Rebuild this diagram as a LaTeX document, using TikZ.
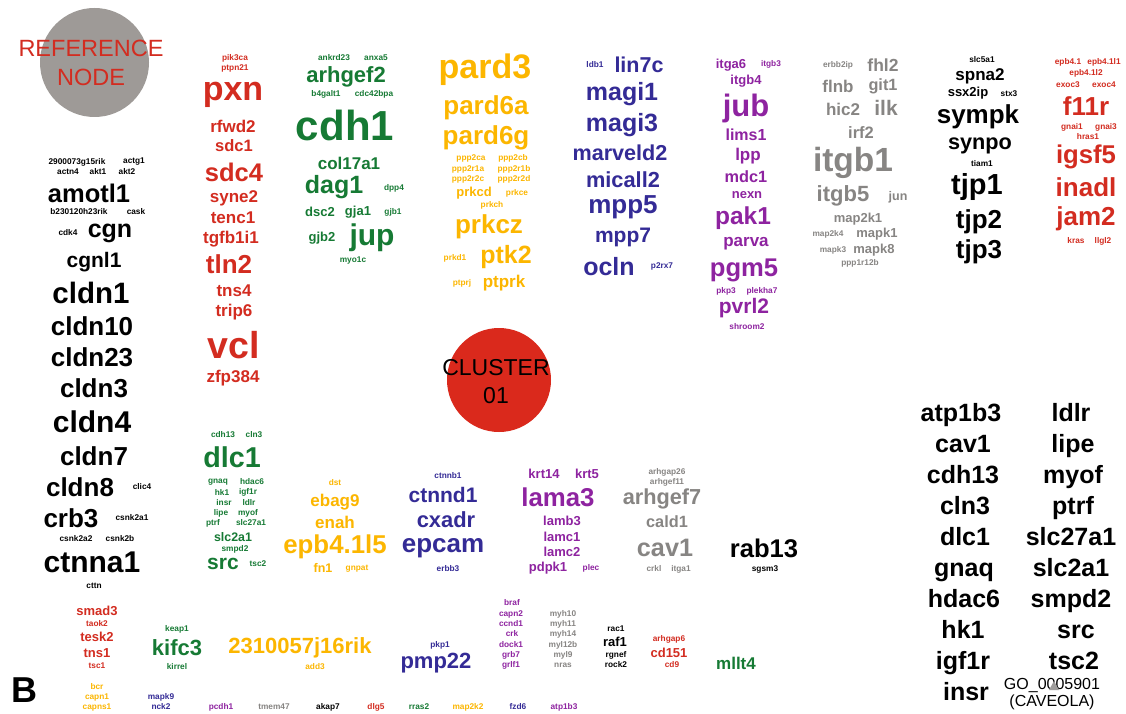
\documentclass[tikz,border=0pt]{standalone}
\usepackage{fontspec}
\setmainfont{Liberation Sans}
\definecolor{cR}{RGB}{211,44,32}
\definecolor{cG}{RGB}{22,122,52}
\definecolor{cO}{RGB}{252,182,0}
\definecolor{cB}{RGB}{52,43,150}
\definecolor{cP}{RGB}{142,35,160}
\definecolor{cY}{RGB}{135,133,131}
\definecolor{cK}{RGB}{0,0,0}
\definecolor{refgray}{RGB}{158,154,151}
\definecolor{clred}{RGB}{218,41,28}
\tikzset{
  wd/.style={inner sep=0pt,outer sep=0pt,anchor=center},
  fs/.style={font=\fontsize{#1}{#1}\selectfont\bfseries},
  plain/.style={inner sep=0pt,outer sep=0pt,align=center,font=\fontsize{23.5}{29}\selectfont},
}
\newcommand\gw[6]{\node[wd,fs={#4},text=#5] (#1) at (#2,#3) {#6};}
\newcommand\gb[5]{\node[wd,anchor=base,fs=25,text=cK] (#1) at (#2,#3) {#4};}
\begin{document}
\begin{tikzpicture}[x=1pt,y=-1pt]
\useasboundingbox[fill=white] (0,0) rectangle (1126,714);
% reference node
\node[circle,fill=refgray,minimum size=109pt,inner sep=0pt] (refc) at (94.5,62.5) {};
\node[plain,text=cR] (reft) at (91,62.5) {REFERENCE\\NODE};
% cluster node
\node[circle,fill=clred,minimum size=104pt,inner sep=0pt] (clc) at (499,380) {};
\node[plain,text=black,font=\fontsize{23}{28}\selectfont] (clt) at (496,382) {CLUSTER\\01};
% black left
\gw{k1}{77}{162}{8.3}{cK}{2900073g15rik}
\gw{k2}{134}{162}{8.3}{cK}{actg1}
\gw{k3}{68}{172}{8.3}{cK}{actn4}
\gw{k4}{98}{172}{8.3}{cK}{akt1}
\gw{k5}{127}{172}{8.3}{cK}{akt2}
\gw{k6}{89}{193}{25.5}{cK}{amotl1}
\gw{k7}{79}{212}{8.3}{cK}{b230120h23rik}
\gw{k8}{136}{212}{8.3}{cK}{cask}
\gw{k9}{68}{233}{8.3}{cK}{cdk4}
\gw{k10}{110}{233}{25}{cK}{cgn}
\gw{k11}{94}{262}{21}{cK}{cgnl1}
\gw{k12}{91}{293}{29.5}{cK}{cldn1}
\gw{k13}{92}{326}{26}{cK}{cldn10}
\gw{k14}{92}{357}{26}{cK}{cldn23}
\gw{k15}{94}{388}{26}{cK}{cldn3}
\gw{k16}{92}{422}{30}{cK}{cldn4}
\gw{k17}{94}{456}{26}{cK}{cldn7}
\gw{k18}{80}{487}{26}{cK}{cldn8}
\gw{k19}{142}{487}{8.3}{cK}{clic4}
\gw{k20}{71}{518}{26}{cK}{crb3}
\gw{k21}{132}{518}{8.3}{cK}{csnk2a1}
\gw{k22}{76}{539}{8.3}{cK}{csnk2a2}
\gw{k23}{120}{539}{8.3}{cK}{csnk2b}
\gw{k24}{92}{562}{30}{cK}{ctnna1}
\gw{k25}{94}{586}{8.3}{cK}{cttn}
% red column
\gw{r1}{235}{58}{8.3}{cR}{pik3ca}
\gw{r2}{235}{68}{8.3}{cR}{ptpn21}
\gw{r3}{233}{95}{34}{cR}{pxn}
\gw{r4}{233}{126}{17}{cR}{rfwd2}
\gw{r5}{234}{146}{16.5}{cR}{sdc1}
\gw{r6}{234}{172}{25.5}{cR}{sdc4}
\gw{r7}{234}{198}{17}{cR}{syne2}
\gw{r8}{233}{218}{17}{cR}{tenc1}
\gw{r9}{231}{239}{17}{cR}{tgfb1i1}
\gw{r10}{229}{264}{26}{cR}{tln2}
\gw{r11}{234}{291}{17}{cR}{tns4}
\gw{r12}{234}{312}{17}{cR}{trip6}
\gw{r13}{234}{345}{37.5}{cR}{vcl}
\gw{r14}{233}{378}{17}{cR}{zfp384}
% green top
\gw{g1}{334}{58}{8.3}{cG}{ankrd23}
\gw{g2}{376}{58}{8.3}{cG}{anxa5}
\gw{g3}{346}{77}{22}{cG}{arhgef2}
\gw{g4}{326}{94}{8.3}{cG}{b4galt1}
\gw{g5}{374}{94}{8.3}{cG}{cdc42bpa}
\gw{g6}{345}{125}{42}{cG}{cdh1}
\gw{g7}{349}{163}{17}{cG}{col17a1}
\gw{g8}{334}{187}{25}{cG}{dag1}
\gw{g9}{394}{188}{8.3}{cG}{dpp4}
\gw{g10}{320}{212}{13}{cG}{dsc2}
\gw{g11}{358}{212}{13}{cG}{gja1}
\gw{g12}{393}{212}{8.3}{cG}{gjb1}
\gw{g13}{322}{238}{13}{cG}{gjb2}
\gw{g14}{372}{238}{30}{cG}{jup}
\gw{g15}{353}{261}{8.3}{cG}{myo1c}
% orange top
\gw{o1}{485}{70}{34}{cO}{pard3}
\gw{o2}{486}{108}{26}{cO}{pard6a}
\gw{o3}{486}{138}{26}{cO}{pard6g}
\gw{o4}{471}{158}{8.3}{cO}{ppp2ca}
\gw{o5}{513}{158}{8.3}{cO}{ppp2cb}
\gw{o6}{468}{169}{8.3}{cO}{ppp2r1a}
\gw{o7}{514}{169}{8.3}{cO}{ppp2r1b}
\gw{o8}{468}{179}{8.3}{cO}{ppp2r2c}
\gw{o9}{514}{179}{8.3}{cO}{ppp2r2d}
\gw{o10}{474}{193}{13}{cO}{prkcd}
\gw{o11}{517}{193}{8.3}{cO}{prkce}
\gw{o12}{492}{205}{8.3}{cO}{prkch}
\gw{o13}{489}{227}{26}{cO}{prkcz}
\gw{o14}{455}{258}{8.3}{cO}{prkd1}
\gw{o15}{506}{257}{25}{cO}{ptk2}
\gw{o16}{462}{283}{8.3}{cO}{ptprj}
\gw{o17}{504}{283}{17}{cO}{ptprk}
% blue top
\gw{b1}{595}{65}{8.3}{cB}{ldb1}
\gw{b2}{639}{65}{21.5}{cB}{lin7c}
\gw{b3}{622}{94}{25}{cB}{magi1}
\gw{b4}{622}{125}{25}{cB}{magi3}
\gw{b5}{620}{153}{21.6}{cB}{marveld2}
\gw{b6}{623}{180}{21.8}{cB}{micall2}
\gw{b7}{623}{207}{26}{cB}{mpp5}
\gw{b8}{623}{237}{21}{cB}{mpp7}
\gw{b9}{609}{267}{25}{cB}{ocln}
\gw{b10}{662}{266}{8.3}{cB}{p2rx7}
% purple top
\gw{p1}{731}{65}{13}{cP}{itga6}
\gw{p2}{771}{64}{8.3}{cP}{itgb3}
\gw{p3}{746}{81}{13}{cP}{itgb4}
\gw{p4}{746}{108}{31}{cP}{jub}
\gw{p5}{746}{135}{16}{cP}{lims1}
\gw{p6}{748}{156}{17}{cP}{lpp}
\gw{p7}{746}{177}{16.3}{cP}{mdc1}
\gw{p8}{747}{195}{13}{cP}{nexn}
\gw{p9}{743}{218}{24.5}{cP}{pak1}
\gw{p10}{746}{244}{17}{cP}{parva}
\gw{p11}{744}{270}{25.6}{cP}{pgm5}
\gw{p12}{726}{291}{8.3}{cP}{pkp3}
\gw{p13}{762}{291}{8.3}{cP}{plekha7}
\gw{p14}{744}{308}{21}{cP}{pvrl2}
\gw{p15}{747}{327}{8.3}{cP}{shroom2}
% gray top
\gw{y1}{838}{65}{8.3}{cY}{erbb2ip}
\gw{y2}{883}{65}{17.5}{cY}{fhl2}
\gw{y3}{838}{86}{17}{cY}{flnb}
\gw{y4}{883}{86}{16.3}{cY}{git1}
\gw{y5}{843}{109}{17}{cY}{hic2}
\gw{y6}{886}{108}{21}{cY}{ilk}
\gw{y7}{861}{133}{16.5}{cY}{irf2}
\gw{y8}{853}{163}{33.5}{cY}{itgb1}
\gw{y9}{843}{196}{22}{cY}{itgb5}
\gw{y10}{898}{197}{12.5}{cY}{jun}
\gw{y11}{858}{219}{13}{cY}{map2k1}
\gw{y12}{828}{234}{8.3}{cY}{map2k4}
\gw{y13}{877}{234}{13}{cY}{mapk1}
\gw{y14}{833}{250}{8.3}{cY}{mapk3}
\gw{y15}{874}{250}{13}{cY}{mapk8}
\gw{y16}{860}{263}{8.3}{cY}{ppp1r12b}
% black top right
\gw{t1}{982}{60}{8.3}{cK}{slc5a1}
\gw{t2}{980}{76}{17}{cK}{spna2}
\gw{t3}{968}{93}{13}{cK}{ssx2ip}
\gw{t4}{1009}{94}{8.3}{cK}{stx3}
\gw{t5}{978}{117}{26}{cK}{sympk}
\gw{t6}{980}{146}{21.7}{cK}{synpo}
\gw{t7}{982}{164}{8.3}{cK}{tiam1}
\gw{t8}{977}{187}{29}{cK}{tjp1}
\gw{t9}{979}{222}{26}{cK}{tjp2}
\gw{t10}{979}{252}{26}{cK}{tjp3}
% red top right
\gw{e1}{1068}{62}{8.3}{cR}{epb4.1}
\gw{e2}{1104}{62}{8.3}{cR}{epb4.1l1}
\gw{e3}{1086}{73}{8.3}{cR}{epb4.1l2}
\gw{e4}{1068}{85}{8.3}{cR}{exoc3}
\gw{e5}{1104}{85}{8.3}{cR}{exoc4}
\gw{e6}{1086}{106}{26}{cR}{f11r}
\gw{e7}{1072}{127}{8.3}{cR}{gnai1}
\gw{e8}{1106}{127}{8.3}{cR}{gnai3}
\gw{e9}{1088}{137}{8.3}{cR}{hras1}
\gw{e10}{1086}{157}{25.7}{cR}{igsf5}
\gw{e11}{1086}{187}{26}{cR}{inadl}
\gw{e12}{1086}{219}{26}{cR}{jam2}
\gw{e13}{1076}{241}{8.3}{cR}{kras}
\gw{e14}{1103}{241}{8.3}{cR}{llgl2}
% green lower
\gw{h1}{223}{435}{8.3}{cG}{cdh13}
\gw{h2}{254}{435}{8.3}{cG}{cln3}
\gw{h3}{232}{457}{28.7}{cG}{dlc1}
\gw{h4}{218}{482}{8.3}{cG}{gnaq}
\gw{h5}{252}{482}{8.3}{cG}{hdac6}
\gw{h6}{222}{492}{8.3}{cG}{hk1}
\gw{h7}{248}{492}{8.3}{cG}{igf1r}
\gw{h8}{224}{503}{8.3}{cG}{insr}
\gw{h9}{249}{503}{8.3}{cG}{ldlr}
\gw{h10}{221}{513}{8.3}{cG}{lipe}
\gw{h11}{248}{513}{8.3}{cG}{myof}
\gw{h12}{213}{523}{8.3}{cG}{ptrf}
\gw{h13}{251}{523}{8.3}{cG}{slc27a1}
\gw{h14}{233}{537}{12.4}{cG}{slc2a1}
\gw{h15}{235}{549}{8.3}{cG}{smpd2}
\gw{h16}{223}{564}{21}{cG}{src}
\gw{h17}{258}{564}{8.3}{cG}{tsc2}
% orange lower
\gw{q1}{335}{483}{8.3}{cO}{dst}
\gw{q2}{335}{502}{17}{cO}{ebag9}
\gw{q3}{335}{522}{17}{cO}{enah}
\gw{q4}{335}{547}{25.8}{cO}{epb4.1l5}
\gw{q5}{323}{568}{12.5}{cO}{fn1}
\gw{q6}{357}{569}{8.3}{cO}{gnpat}
% blue lower
\gw{c1}{448}{476}{8.3}{cB}{ctnnb1}
\gw{c2}{443}{495}{21}{cB}{ctnnd1}
\gw{c3}{446}{520}{21.9}{cB}{cxadr}
\gw{c4}{443}{548}{26}{cB}{epcam}
\gw{c5}{448}{569}{8.3}{cB}{erbb3}
% purple lower
\gw{m1}{544}{474}{13}{cP}{krt14}
\gw{m2}{587}{474}{13}{cP}{krt5}
\gw{m3}{558}{497}{25.8}{cP}{lama3}
\gw{m4}{562}{521}{13}{cP}{lamb3}
\gw{m5}{562}{537}{13}{cP}{lamc1}
\gw{m6}{562}{552}{13}{cP}{lamc2}
\gw{m7}{548}{568}{13}{cP}{pdpk1}
\gw{m8}{591}{568}{8.3}{cP}{plec}
% gray lower
\gw{z1}{667}{472}{8.3}{cY}{arhgap26}
\gw{z2}{667}{482}{8.3}{cY}{arhgef11}
\gw{z3}{662}{499}{21.7}{cY}{arhgef7}
\gw{z4}{667}{522}{16.3}{cY}{cald1}
\gw{z5}{665}{548}{25.2}{cY}{cav1}
\gw{z6}{654}{569}{8.3}{cY}{crkl}
\gw{z7}{681}{569}{8.3}{cY}{itga1}
\gw{x1}{764}{548}{25.6}{cK}{rab13}
\gw{x2}{765}{569}{8.3}{cK}{sgsm3}
% bottom rows
\gw{d1}{97}{611}{13}{cR}{smad3}
\gw{d2}{97}{624}{8.3}{cR}{taok2}
\gw{d3}{97}{637}{13}{cR}{tesk2}
\gw{d4}{97}{653}{13}{cR}{tns1}
\gw{d5}{97}{666}{8.3}{cR}{tsc1}
\gw{d6}{97}{687}{8.3}{cO}{bcr}
\gw{d7}{97}{697}{8.3}{cO}{capn1}
\gw{d8}{97}{707}{8.3}{cO}{capns1}
\gw{d9}{177}{629}{8.3}{cG}{keap1}
\gw{d10}{177}{648}{22}{cG}{kifc3}
\gw{d11}{177}{667}{8.3}{cG}{kirrel}
\gw{d12}{161}{697}{8.3}{cB}{mapk9}
\gw{d13}{161}{707}{8.3}{cB}{nck2}
\gw{d14}{300}{648}{22}{cO}{2310057j16rik}
\gw{d15}{315}{667}{8.3}{cO}{add3}
\gw{d16}{221}{707}{8.3}{cP}{pcdh1}
\gw{d17}{274}{707}{8.3}{cY}{tmem47}
\gw{d18}{328}{707}{8.3}{cK}{akap7}
\gw{d19}{376}{707}{8.3}{cR}{dlg5}
\gw{d20}{419}{707}{8.3}{cG}{rras2}
\gw{d21}{440}{645}{8.3}{cB}{pkp1}
\gw{d22}{436}{663}{22}{cB}{pmp22}
\gw{d23}{512}{603}{8.3}{cP}{braf}
\gw{d24}{511}{614}{8.3}{cP}{capn2}
\gw{d25}{511}{624}{8.3}{cP}{ccnd1}
\gw{d26}{512}{634}{8.3}{cP}{crk}
\gw{d27}{511}{645}{8.3}{cP}{dock1}
\gw{d28}{511}{655}{8.3}{cP}{grb7}
\gw{d29}{511}{665}{8.3}{cP}{grlf1}
\gw{d30}{563}{614}{8.3}{cY}{myh10}
\gw{d31}{563}{624}{8.3}{cY}{myh11}
\gw{d32}{563}{634}{8.3}{cY}{myh14}
\gw{d33}{563}{645}{8.3}{cY}{myl12b}
\gw{d34}{563}{655}{8.3}{cY}{myl9}
\gw{d35}{563}{665}{8.3}{cY}{nras}
\gw{d36}{616}{629}{8.3}{cK}{rac1}
\gw{d37}{615}{642}{13}{cK}{raf1}
\gw{d38}{616}{655}{8.3}{cK}{rgnef}
\gw{d39}{616}{665}{8.3}{cK}{rock2}
\gw{d40}{669}{639}{8.3}{cR}{arhgap6}
\gw{d41}{669}{653}{13}{cR}{cd151}
\gw{d42}{672}{665}{8.3}{cR}{cd9}
\gw{d43}{736}{663}{17}{cG}{mllt4}
\gw{d44}{468}{707}{8.3}{cO}{map2k2}
\gw{d45}{518}{707}{8.3}{cB}{fzd6}
\gw{d46}{564}{707}{8.3}{cP}{atp1b3}
\gw{bb}{24}{690}{36}{cK}{B}
% right GO columns (baseline aligned)
\gb{v1}{961}{421}{atp1b3}{}
\gb{v2}{963}{452}{cav1}{}
\gb{v3}{963}{483}{cdh13}{}
\gb{v4}{965}{514}{cln3}{}
\gb{v5}{965}{545}{dlc1}{}
\gb{v6}{964}{576}{gnaq}{}
\gb{v7}{964}{607}{hdac6}{}
\gb{v8}{963}{638}{hk1}{}
\gb{v9}{963}{669}{igf1r}{}
\gb{v10}{966}{700}{insr}{}
\gb{u1}{1071}{421}{ldlr}{}
\gb{u2}{1073}{452}{lipe}{}
\gb{u3}{1073}{483}{myof}{}
\gb{u4}{1073}{514}{ptrf}{}
\gb{u5}{1071}{545}{slc27a1}{}
\gb{u6}{1071}{576}{slc2a1}{}
\gb{u7}{1071}{607}{smpd2}{}
\gb{u8}{1076}{638}{src}{}
\gb{u9}{1074}{669}{tsc2}{}
\node[plain,font=\fontsize{16}{17.5}\selectfont,text=black] (go) at (1052,694) {GO\_0005901\\(CAVEOLA)};
\fill[cY!80] (1054,681) -- (1059,690) -- (1049,690) -- cycle;
\end{tikzpicture}
\end{document}
